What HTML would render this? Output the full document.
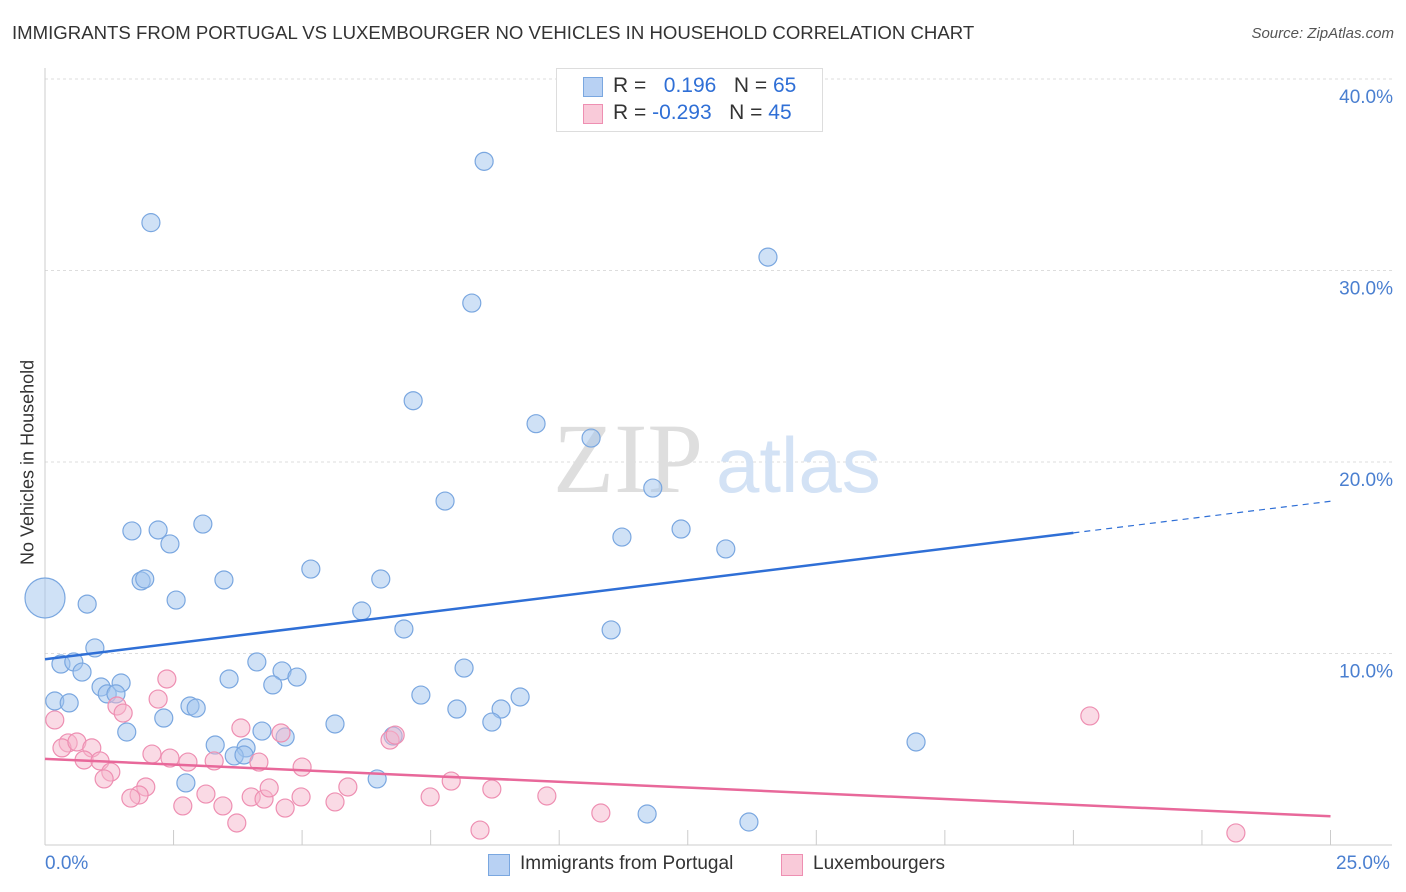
<!DOCTYPE html>
<html><head><meta charset="utf-8"><style>
body{margin:0;background:#fff;font-family:"Liberation Sans",sans-serif;}
#wrap{position:relative;width:1406px;height:892px;overflow:hidden;}
.t{position:absolute;white-space:nowrap;}
</style></head><body>
<div id="wrap">
<div class="t" style="left:12px;top:22px;font-size:18.6px;color:#333;">IMMIGRANTS FROM PORTUGAL VS LUXEMBOURGER NO VEHICLES IN HOUSEHOLD CORRELATION CHART</div>
<div class="t" style="right:12px;top:25px;font-size:15px;color:#555;font-style:italic;">Source: ZipAtlas.com</div>
<svg id="svg" width="1406" height="892" style="position:absolute;left:0;top:0;"></svg>
</div>
<script>
const blueX=[0,2.06,8.54,14.06,8.30,7.16,9.55,10.62,7.78,11.82,1.69,2.20,3.07,2.43,11.22,12.37,13.24,5.17,1.87,1.94,3.48,6.53,0.82,2.55,6.16,6.98,11.01,0.97,0.31,0.56,0.72,8.15,4.12,4.61,4.90,3.58,4.43,1.09,1.48,1.21,1.38,0.19,0.47,2.82,2.94,7.31,9.24,8.01,8.87,2.31,5.64,8.69,1.59,4.22,4.67,6.77,3.31,3.91,3.68,3.87,16.94,6.46,2.74,11.71,13.69];
const blueY=[12.9,32.5,35.7,30.7,28.3,23.2,22.0,21.25,17.96,18.64,16.4,16.45,16.76,15.72,16.08,16.5,15.46,14.41,13.79,13.89,13.84,13.89,12.58,12.79,12.22,11.28,11.23,10.29,9.45,9.56,9.03,9.24,9.56,9.09,8.77,8.67,8.36,8.25,8.46,7.89,7.89,7.52,7.42,7.26,7.15,7.83,7.73,7.10,7.10,6.63,6.32,6.42,5.90,5.95,5.64,5.69,5.22,5.07,4.65,4.70,5.38,3.45,3.24,1.62,1.20];
const pinkX=[0.19,0.45,0.33,0.62,0.91,0.76,1.07,1.28,1.15,1.40,1.52,2.20,2.37,2.08,2.43,2.78,3.29,3.81,4.16,4.59,5.00,1.96,1.83,1.67,2.68,3.13,3.46,3.73,4.01,4.26,4.36,4.67,4.98,5.64,5.89,6.71,6.81,7.49,7.90,8.69,9.76,8.46,10.81,20.32,23.16];
const pinkY=[6.53,5.33,5.07,5.38,5.07,4.44,4.39,3.81,3.45,7.26,6.89,7.62,8.67,4.75,4.54,4.33,4.39,6.11,4.33,5.85,4.07,3.03,2.61,2.45,2.04,2.66,2.04,1.15,2.51,2.40,2.98,1.93,2.51,2.25,3.03,5.48,5.74,2.51,3.34,2.92,2.56,0.78,1.67,6.74,0.63];
const yTicks=[10,20,30,40];
const yTickLabels=["10.0%","20.0%","30.0%","40.0%"];
const blueTrend=[9.7,17.95];
const pinkTrend=[4.5,1.5];
const NS="http://www.w3.org/2000/svg";
const svg=document.getElementById('svg');
const X=v=>45+v*51.42, Y=v=>845-v*19.15;
function mk(tag,a){const e=document.createElementNS(NS,tag);for(const k in a)e.setAttribute(k,a[k]);svg.appendChild(e);return e;}
yTicks.forEach((t,i)=>{
 const g=mk('line',{x1:45,x2:1392,y1:Y(t),y2:Y(t),stroke:'#ddd','stroke-dasharray':'3,3'});
 
 
 const tx=mk('text',{x:1393,y:Y(t)+24,'text-anchor':'end','font-size':19,fill:'#4a7fd0','font-family':'Liberation Sans, sans-serif'});
 tx.textContent=yTickLabels[i];
 
 
});
const topLine=mk('line',{x1:45,x2:1392,y1:79,y2:79,stroke:'#ddd','stroke-dasharray':'3,3'});
const yAxis=mk('line',{x1:45,x2:45,y1:68,y2:845,stroke:'#ccc'});


const xAxis=mk('line',{x1:45,x2:1392,y1:845,y2:845,stroke:'#ccc'});


for(let i=1;i<=10;i++){const l=mk('line',{x1:X(i*2.5),x2:X(i*2.5),y1:830,y2:845,stroke:'#ccc'});
 
 }
const w1=mk('text',{x:553,y:492,'font-size':100,fill:'#dedede','font-family':'Liberation Serif, serif'});w1.textContent='ZIP';


const w2=mk('text',{x:716,y:492,'font-size':78,fill:'#d3e2f5','font-family':'Liberation Sans, sans-serif'});w2.textContent='atlas';


blueX.forEach((x,i)=>{const c=mk('circle',{cx:X(x),cy:Y(blueY[i]),r:i==0?20:9,fill:'rgba(160,195,238,0.5)',stroke:'#7aa7e0','stroke-width':1.2});
 
 });
pinkX.forEach((x,i)=>{const c=mk('circle',{cx:X(x),cy:Y(pinkY[i]),r:9,fill:'rgba(246,182,204,0.5)',stroke:'#ee8fb2','stroke-width':1.2});
 
 });
const bAt=v=>blueTrend[0]+(blueTrend[1]-blueTrend[0])*v/25;
const bl=mk('line',{x1:X(0),y1:Y(bAt(0)),x2:X(20),y2:Y(bAt(20)),stroke:'#2f6fd6','stroke-width':2.5});


const bd=mk('line',{x1:X(20),y1:Y(bAt(20)),x2:X(25),y2:Y(bAt(25)),stroke:'#2f6fd6','stroke-width':1.2,'stroke-dasharray':'6,5'});


const pl=mk('line',{x1:X(0),y1:Y(pinkTrend[0]),x2:X(25),y2:Y(pinkTrend[1]),stroke:'#e8689a','stroke-width':2.5});


</script>
<div class="t" style="left:45px;top:853px;font-size:19px;color:#4a7fd0;">0.0%</div>
<div class="t" style="left:1336px;top:853px;font-size:19px;color:#4a7fd0;">25.0%</div>
<div class="t" style="left:8px;top:455px;font-size:18px;color:#333;transform:translate(0,-50%) rotate(-90deg);transform-origin:center;width:40px;text-align:center;"><span style="display:inline-block;margin-left:-90px;">No Vehicles in Household</span></div>
<div style="position:absolute;left:556px;top:68px;width:265px;height:62px;border:1px solid #ddd;background:#fff;font-size:21px;">
 <div style="position:absolute;left:26px;top:8px;width:18px;height:18px;background:#b8d1f3;border:1px solid #7aa7e0;"></div>
 <div class="t" style="left:56px;top:5px;color:#333;">R = &nbsp;&nbsp;<span style="color:#2f6fd6">0.196</span>&nbsp;&nbsp; N = <span style="color:#2f6fd6">65</span></div>
 <div style="position:absolute;left:26px;top:35px;width:18px;height:18px;background:#f9cad9;border:1px solid #ee8fb2;"></div>
 <div class="t" style="left:56px;top:32px;color:#333;">R = <span style="color:#2f6fd6">-0.293</span>&nbsp;&nbsp; N = <span style="color:#2f6fd6">45</span></div>
</div>
<div style="position:absolute;left:488px;top:854px;width:20px;height:20px;background:#b8d1f3;border:1px solid #7aa7e0;"></div>
<div class="t" style="left:520px;top:853px;font-size:19px;color:#333;">Immigrants from Portugal</div>
<div style="position:absolute;left:781px;top:854px;width:20px;height:20px;background:#f9cad9;border:1px solid #ee8fb2;"></div>
<div class="t" style="left:813px;top:853px;font-size:19px;color:#333;">Luxembourgers</div>
</body></html>
